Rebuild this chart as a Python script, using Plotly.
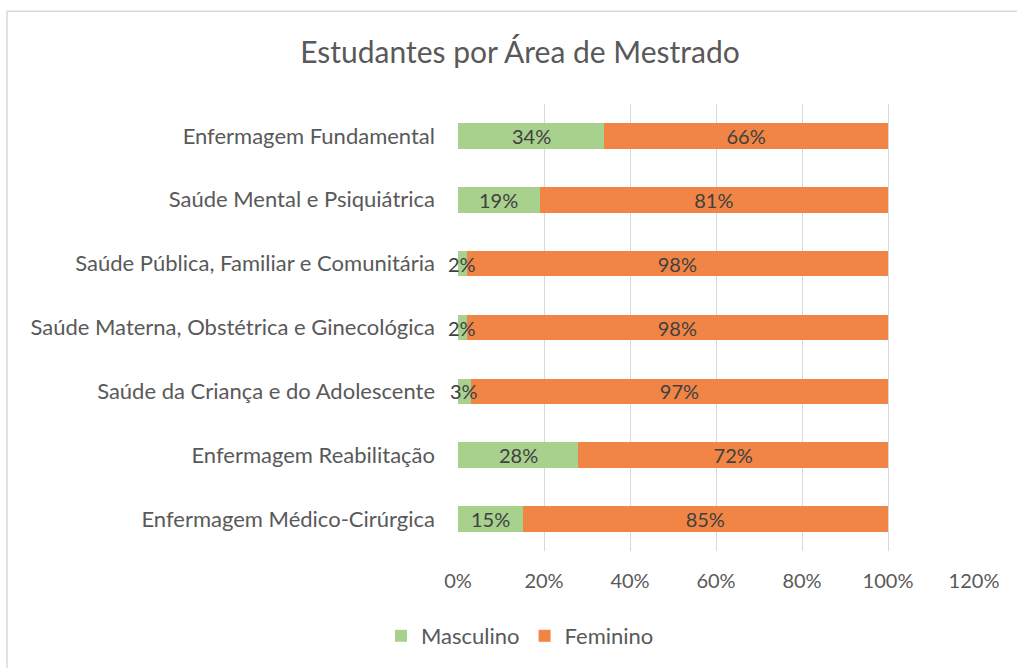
import plotly.graph_objects as go

categories = [
    "Enfermagem Fundamental",
    "Saúde Mental e Psiquiátrica",
    "Saúde Pública, Familiar e Comunitária",
    "Saúde Materna, Obstétrica e Ginecológica",
    "Saúde da Criança e do Adolescente",
    "Enfermagem Reabilitação",
    "Enfermagem Médico-Cirúrgica",
]
masculino = [0.34, 0.19, 0.02, 0.02, 0.03, 0.28, 0.15]
feminino = [0.66, 0.81, 0.98, 0.98, 0.97, 0.72, 0.85]
x_ticks = [0, 0.2, 0.4, 0.6, 0.8, 1.0, 1.2]

FONT = "Lato"
W, H = 1017, 668
L, R, T, B = 458, 43, 104, 116
PW, PH = W - L - R, H - T - B

fig = go.Figure()
fig.add_trace(go.Bar(
    y=categories, x=masculino, orientation="h", name="Masculino",
    marker=dict(color="#a9d18e", line=dict(width=0)), width=0.4,
))
fig.add_trace(go.Bar(
    y=categories, x=feminino, orientation="h", name="Feminino",
    marker=dict(color="#f08546", line=dict(width=0)),
    text=[f"{v*100:.0f}%" for v in feminino], textposition="inside", textangle=0,
    insidetextanchor="middle", textfont=dict(color="#404040", size=20, family=FONT),
    constraintext="none", width=0.4,
))
# Masculino labels centred in their segments (may overflow small segments)
for cat, v in zip(categories, masculino):
    fig.add_annotation(x=v / 2, y=cat, xref="x", yref="y", text=f"{v*100:.0f}%",
                       showarrow=False, xanchor="center", yanchor="middle",
                       font=dict(color="#404040", size=20, family=FONT))
fig.update_layout(
    barmode="stack",
    width=W, height=H,
    margin=dict(l=L, r=R, t=T, b=B),
    paper_bgcolor="white", plot_bgcolor="white",
    font=dict(family=FONT, color="#595959", size=22),
    title=dict(text="Estudantes por Área de Mestrado", x=(520 - L) / PW, xref="paper", xanchor="center",
               y=1 - 52 / H, yanchor="middle", font=dict(size=30, color="#595959", family=FONT)),
    uniformtext=dict(minsize=20, mode="show"),
    legend=dict(orientation="h", x=(520 - L) / PW, xanchor="center", y=(T + PH - 636) / PH, yanchor="middle",
                font=dict(size=22, color="#595959"), traceorder="normal"),
    xaxis=dict(range=[0, 1.2], tickvals=x_ticks, tickformat=".0%", showgrid=True,
               gridcolor="#d9d9d9", gridwidth=1, zeroline=False, showline=False,
               ticklabelstandoff=16, tickfont=dict(size=20, color="#595959")),
    yaxis=dict(autorange="reversed", showgrid=False, showline=False, zeroline=False,
               ticklabelstandoff=22, tickfont=dict(size=22, color="#595959")),
    shapes=[dict(type="rect", xref="paper", yref="paper",
                 x0=(7 - L) / PW, x1=(1030 - L) / PW,
                 y0=(T + PH - 690) / PH, y1=(T + PH - 11) / PH,
                 line=dict(color="#d9d9d9", width=1.5), fillcolor="rgba(0,0,0,0)", layer="below")],
)
fig.write_html("out.html", config={"displayModeBar": False},
               post_script="document.body.style.margin='0';document.body.style.overflow='hidden';")
